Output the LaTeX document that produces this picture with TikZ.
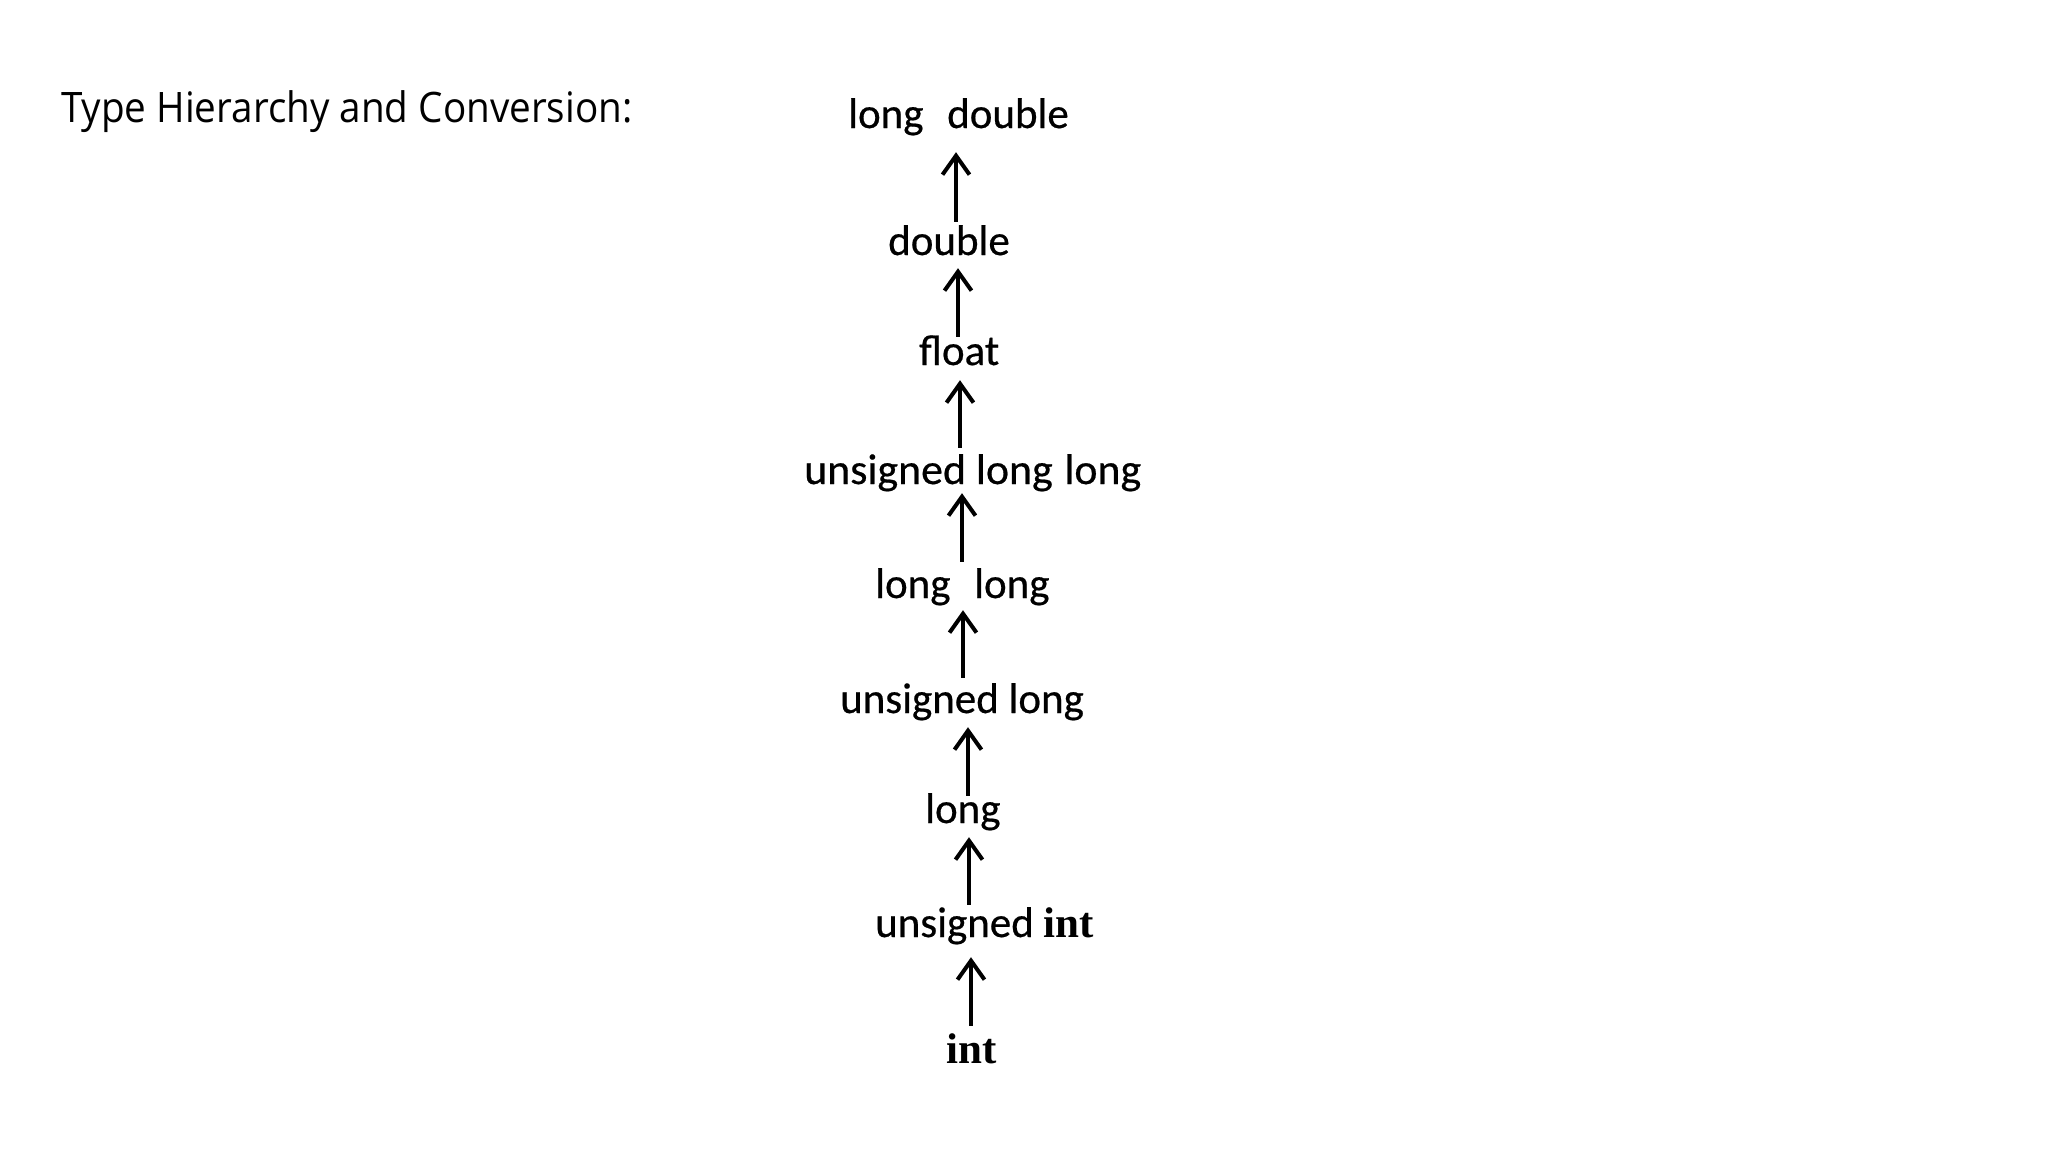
\documentclass[tikz,border=0pt]{standalone}
\usepackage{fontspec}
\usetikzlibrary{arrows.meta}
\newfontfamily\titlefont[FakeStretch=0.92]{Open Sans}
\newfontfamily\calfont[FakeBold=0.5]{Carlito}
\newfontfamily\calwide[FakeBold=0.5,FakeStretch=1.02]{Carlito}
\newfontfamily\intfont{Liberation Serif}
\begin{document}
\begin{tikzpicture}[x=1pt,y=-1pt,
  lbl/.style={anchor=base west,inner sep=0pt,text height=30pt,text depth=9pt,
    font=\calfont\fontsize{43}{50}\selectfont},
  arr/.style={line width=4pt,-{Straight Barb[length=19pt,width=27pt,line width=4pt]}}]
\useasboundingbox (0,0) rectangle (2048,1152);
\node[anchor=base west,inner sep=0pt,font=\titlefont\fontsize{42}{50}\selectfont] (t) at (61,122) {Type Hierarchy and Conversion:};
\node[lbl] (ld)  at (848,128)  {long\hspace{0.55em}double};
\node[lbl] (d)   at (888,255)  {double};
\node[lbl] (f)   at (919,365)  {float};
\node[lbl,font=\calwide\fontsize{43}{50}\selectfont] (ull) at (804,484)  {unsigned long\hspace{0.27em}long};
\node[lbl] (ll)  at (875,598)  {long\hspace{0.55em}long};
\node[lbl] (ul)  at (840,713)  {unsigned long};
\node[lbl] (l)   at (925,823)  {long};
\node[lbl] (ui)  at (875,937)  {unsigned {\intfont\bfseries int}};
\node[lbl] (i)   at (946,1063) {\intfont\bfseries int};
\draw[arr,shorten <=3pt,shorten >=15pt] (d.north -| 956,0) -- (ld.south -| 956,0);
\draw[arr,shorten <=-2pt,shorten >=4pt] (f.north -| 958,0) -- (d.south -| 958,0);
\draw[arr,shorten <=6pt,shorten >=6pt] (ull.north -| 960,0) -- (f.south -| 960,0);
\draw[arr,shorten <=6pt,shorten >=0pt] (ll.north -| 962,0) -- (ull.south -| 962,0);
\draw[arr,shorten <=5pt,shorten >=3pt] (ul.north -| 963,0) -- (ll.south -| 963,0);
\draw[arr,shorten <=-3pt,shorten >=5pt] (l.north -| 968,0) -- (ul.south -| 968,0);
\draw[arr,shorten <=2pt,shorten >=5pt] (ui.north -| 969,0) -- (l.south -| 969,0);
\draw[arr,shorten <=7pt,shorten >=11pt] (i.north -| 971,0) -- (ui.south -| 971,0);
\end{tikzpicture}
\end{document}
